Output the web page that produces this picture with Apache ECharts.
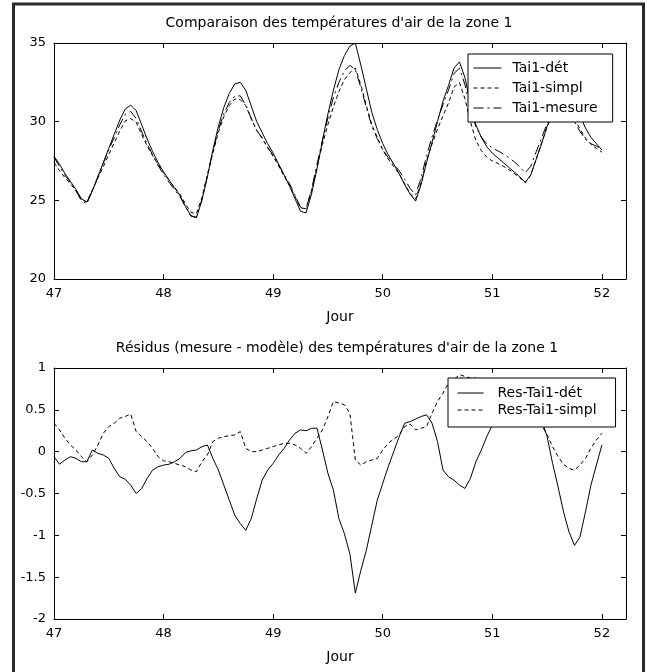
<!DOCTYPE html>
<html>
<head>
<meta charset="utf-8">
<script src="https://cdn.jsdelivr.net/npm/echarts@6/dist/echarts.min.js"></script>
<style>
  html, body { margin: 0; padding: 0; background: #fff; }
  #chart { width: 647px; height: 672px; }
</style>
</head>
<body>
<div id="chart"></div>
<script>
// Sampling times (day of year)
const jours = [
  47.00,47.05,47.10,47.15,47.20,47.25,47.30,47.35,47.40,47.45,
  47.50,47.55,47.60,47.65,47.70,47.75,47.80,47.85,47.90,47.95,
  48.00,48.05,48.10,48.15,48.20,48.25,48.30,48.35,48.40,48.45,
  48.50,48.55,48.60,48.65,48.70,48.75,48.80,48.85,48.90,48.95,
  49.00,49.05,49.10,49.15,49.20,49.25,49.30,49.35,49.40,49.45,
  49.50,49.55,49.60,49.65,49.70,49.75,49.80,49.85,49.90,49.95,
  50.00,50.05,50.10,50.15,50.20,50.25,50.30,50.35,50.40,50.45,
  50.50,50.55,50.60,50.65,50.70,50.75,50.80,50.85,50.90,50.95,
  51.00,51.05,51.10,51.15,51.20,51.25,51.30,51.35,51.40,51.45,
  51.50,51.55,51.60,51.65,51.70,51.75,51.80,51.85,51.90,51.95,
  52.00
];

// Zone 1 air temperature, detailed model (°C)
const taiDet = [
  27.8,27.3,26.7,26.2,25.7,25.1,24.9,25.6,26.5,27.4,
  28.3,29.2,30.1,30.8,31.05,30.7,29.8,28.9,28.1,27.4,
  26.8,26.3,25.8,25.3,24.6,24.0,23.9,25.0,26.5,28.2,
  29.7,30.9,31.8,32.4,32.5,32.0,31.0,30.0,29.3,28.6,
  28.0,27.3,26.6,25.9,25.1,24.3,24.2,25.4,27.0,28.8,
  30.5,32.0,33.3,34.2,34.8,35.0,33.6,32.1,30.6,29.5,
  28.6,27.9,27.3,26.7,26.0,25.4,24.95,26.0,27.4,28.7,
  30.0,31.3,32.3,33.4,33.8,32.8,31.2,29.8,29.0,28.4,
  28.0,27.7,27.4,27.1,26.8,26.5,26.15,26.6,27.6,28.6,
  29.7,30.6,31.2,31.5,31.5,31.1,30.4,29.6,29.0,28.6,
  28.2
];

// Zone 1 air temperature, simplified model (°C)
const taiSimpl = [
  27.40,26.89,26.44,26.06,25.60,25.04,24.90,25.66,26.40,27.14,
  27.92,28.66,29.40,30.05,30.20,29.96,29.18,28.46,27.84,27.28,
  26.75,26.27,25.82,25.38,24.77,24.23,24.16,25.18,26.62,28.00,
  29.32,30.32,31.03,31.44,31.40,31.02,30.20,29.44,28.94,28.34,
  27.80,27.18,26.54,25.94,25.24,24.52,24.47,25.62,27.12,28.56,
  29.82,30.94,31.92,32.66,33.12,33.41,32.34,31.04,29.82,29.00,
  28.20,27.62,27.15,26.68,26.04,25.43,25.08,26.14,27.54,28.58,
  29.52,30.38,31.18,32.20,32.48,31.46,30.00,28.80,28.16,27.74,
  27.50,27.35,27.17,26.96,26.71,26.44,26.11,26.59,27.62,28.66,
  29.68,30.40,30.84,30.93,30.74,30.20,29.54,28.96,28.56,28.30,
  28.06
];

// Zone 1 air temperature, measured (°C)
const taiMesure = [
  27.74,27.15,26.60,26.14,25.62,24.98,24.78,25.62,26.48,27.36,
  28.22,29.00,29.80,30.47,30.65,30.20,29.36,28.58,27.88,27.22,
  26.64,26.15,25.68,25.22,24.59,24.01,23.92,25.06,26.58,28.12,
  29.48,30.50,31.22,31.64,31.64,31.06,30.20,29.44,28.96,28.38,
  27.86,27.26,26.64,26.04,25.32,24.56,24.45,25.68,27.28,28.82,
  30.24,31.54,32.50,33.22,33.58,33.31,32.18,30.92,29.72,28.92,
  28.22,27.72,27.30,26.88,26.34,25.76,25.34,26.42,27.84,29.04,
  30.12,31.08,32.00,33.06,33.40,32.36,30.88,29.68,29.02,28.58,
  28.32,28.15,27.95,27.72,27.45,27.14,26.75,27.15,28.08,28.98,
  29.88,30.46,30.78,30.78,30.54,29.98,29.38,28.88,28.60,28.44,
  28.28
];

// Residuals (measured - detailed model)
const resDet = [
  -0.06,-0.15,-0.10,-0.06,-0.08,-0.12,-0.12,0.02,-0.02,-0.04,
  -0.08,-0.20,-0.30,-0.33,-0.40,-0.50,-0.44,-0.32,-0.22,-0.18,
  -0.16,-0.15,-0.12,-0.08,-0.01,0.01,0.02,0.06,0.08,-0.08,
  -0.22,-0.40,-0.58,-0.76,-0.86,-0.94,-0.80,-0.56,-0.34,-0.22,
  -0.14,-0.04,0.04,0.14,0.22,0.26,0.25,0.28,0.28,0.02,
  -0.26,-0.46,-0.80,-0.98,-1.22,-1.69,-1.42,-1.18,-0.88,-0.58,
  -0.38,-0.18,0.00,0.18,0.34,0.36,0.39,0.42,0.44,0.34,
  0.12,-0.22,-0.30,-0.34,-0.40,-0.44,-0.32,-0.12,0.02,0.18,
  0.32,0.45,0.55,0.62,0.65,0.64,0.60,0.55,0.48,0.38,
  0.18,-0.14,-0.42,-0.72,-0.96,-1.12,-1.02,-0.72,-0.40,-0.16,
  0.08
];

// Residuals (measured - simplified model)
const resSimpl = [
  0.34,0.26,0.16,0.08,0.02,-0.06,-0.12,-0.04,0.08,0.22,
  0.30,0.34,0.40,0.42,0.45,0.24,0.18,0.12,0.04,-0.06,
  -0.11,-0.12,-0.14,-0.16,-0.18,-0.22,-0.24,-0.12,-0.04,0.12,
  0.16,0.18,0.19,0.20,0.24,0.04,0.00,0.00,0.02,0.04,
  0.06,0.08,0.10,0.10,0.08,0.04,-0.02,0.06,0.16,0.26,
  0.42,0.60,0.58,0.56,0.46,-0.10,-0.16,-0.12,-0.10,-0.08,
  0.02,0.10,0.15,0.20,0.30,0.33,0.26,0.28,0.30,0.46,
  0.60,0.70,0.82,0.86,0.92,0.90,0.88,0.88,0.86,0.84,
  0.82,0.80,0.78,0.76,0.74,0.70,0.64,0.56,0.46,0.32,
  0.20,0.06,-0.06,-0.15,-0.20,-0.22,-0.16,-0.08,0.04,0.14,
  0.22
];

const titreHaut = "Comparaison des températures d'air de la zone 1";
const titreBas = "Résidus (mesure - modèle) des températures d'air de la zone 1";
const nomAxeX = 'Jour';
const ticksTemp = [20, 35, 5];   // min, max, step
const ticksRes = [-2, 1, 0.5];
const ticksJour = [47, 52.22, 1];

const FONT = 'DejaVu Sans';
const INK = '#000';

function paires(ys) { return jours.map((x, i) => [x, ys[i]]); }

const chart = echarts.init(document.getElementById('chart'), null, { renderer: 'canvas' });

const tickIn = { show: true, inside: true, length: 5, lineStyle: { color: INK, width: 1 } };
const lineAx = { show: true, onZero: false, lineStyle: { color: INK, width: 1 } };
const lbl = { color: INK, fontFamily: FONT, fontSize: 13 };

function xAxes(gridIndex) {
  return [
    {
      type: 'value', gridIndex, position: 'bottom',
      min: ticksJour[0], max: ticksJour[1], interval: ticksJour[2],
      axisLine: lineAx, axisTick: tickIn, splitLine: { show: false },
      axisLabel: Object.assign({ margin: 8, formatter: v => (Number.isInteger(v) ? String(v) : '') }, lbl),
      name: nomAxeX, nameLocation: 'middle', nameGap: 31,
      nameTextStyle: { color: INK, fontFamily: FONT, fontSize: 14 }
    },
    {
      type: 'value', gridIndex, position: 'top',
      min: ticksJour[0], max: ticksJour[1], interval: ticksJour[2],
      axisLine: lineAx, axisTick: tickIn, splitLine: { show: false },
      axisLabel: { show: false }
    }
  ];
}

function yAxes(gridIndex, t) {
  return [
    {
      type: 'value', gridIndex, position: 'left',
      min: t[0], max: t[1], interval: t[2],
      axisLine: lineAx, axisTick: tickIn, splitLine: { show: false },
      axisLabel: Object.assign({ margin: 8 }, lbl)
    },
    {
      type: 'value', gridIndex, position: 'right',
      min: t[0], max: t[1], interval: t[2],
      axisLine: lineAx, axisTick: tickIn, splitLine: { show: false },
      axisLabel: { show: false }
    }
  ];
}

function serie(name, data, xi, yi, type) {
  return {
    name, type: 'line', data: paires(data), xAxisIndex: xi, yAxisIndex: yi,
    symbol: 'none', showSymbol: false, smooth: false, animation: false,
    lineStyle: { color: INK, width: 1, type },
    itemStyle: { color: INK }
  };
}

const legendBase = {
  orient: 'vertical', selectedMode: false,
  backgroundColor: '#fff', borderColor: INK, borderWidth: 1, borderRadius: 0,
  itemStyle: { opacity: 0 },
  lineStyle: { width: 1 }
};

chart.setOption({
  backgroundColor: '#fff',
  animation: false,
  grid: [
    { left: 54, top: 43, width: 572, height: 236 },
    { left: 54, top: 368, width: 572, height: 251 }
  ],
  xAxis: [...xAxes(0), ...xAxes(1)],
  yAxis: [...yAxes(0, ticksTemp), ...yAxes(1, ticksRes)],
  legend: [
    Object.assign({}, legendBase, {
      left: 468, top: 54, padding: [7, 15, 7, 5], itemGap: 6,
      itemWidth: 28, itemHeight: 16,
      textStyle: { color: INK, fontFamily: FONT, fontSize: 14, padding: [0, 0, 0, 6] },
      data: ['Tai1-dét', 'Tai1-simpl', 'Tai1-mesure']
    }),
    Object.assign({}, legendBase, {
      left: 448, top: 378, padding: [8, 19, 10, 9], itemGap: 3,
      itemWidth: 26, itemHeight: 16,
      textStyle: { color: INK, fontFamily: FONT, fontSize: 14, padding: [0, 0, 0, 9] },
      data: ['Res-Tai1-dét', 'Res-Tai1-simpl']
    })
  ],
  series: [
    serie('Tai1-dét', taiDet, 0, 0, 'solid'),
    serie('Tai1-simpl', taiSimpl, 0, 0, [4, 3]),
    serie('Tai1-mesure', taiMesure, 0, 0, [10, 4, 2, 4]),
    serie('Res-Tai1-dét', resDet, 2, 2, 'solid'),
    serie('Res-Tai1-simpl', resSimpl, 2, 2, [4, 3])
  ],
  graphic: [
    {
      type: 'rect', silent: true, z: 100,
      shape: { x: 13.5, y: 4, width: 630, height: 700 },
      style: { fill: 'none', stroke: '#2a2a2a', lineWidth: 3 }
    },
    {
      type: 'text', x: 339, y: 23,
      style: { text: titreHaut, fill: INK, font: '14px "' + FONT + '"', align: 'center', verticalAlign: 'middle' }
    },
    {
      type: 'text', x: 337, y: 348,
      style: { text: titreBas, fill: INK, font: '14px "' + FONT + '"', align: 'center', verticalAlign: 'middle' }
    }
  ]
});
</script>
</body>
</html>
